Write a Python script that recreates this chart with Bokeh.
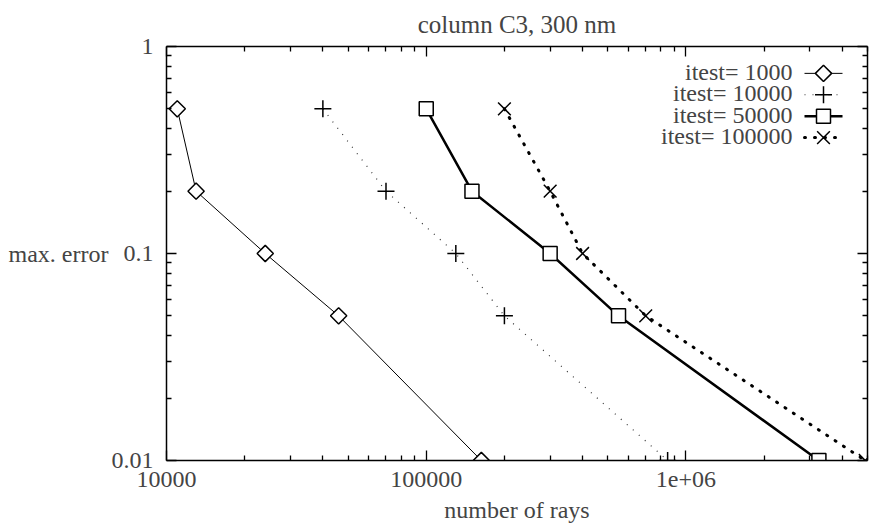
from bokeh.plotting import figure
from bokeh.models import (Range1d, FixedTicker, CustomJSTickFormatter, LogAxis,
                          Label, LinearScale)
from bokeh.embed import file_html
from bokeh.resources import INLINE

# ---- data ----
title_text = "column C3, 300 nm"
series_names = ["itest= 1000", "itest= 10000", "itest= 50000", "itest= 100000"]
rays_1000 = [11000, 13000, 24000, 46000, 163000]
err_1000 = [0.5, 0.2, 0.1, 0.05, 0.01]
rays_10000 = [40000, 70000, 130000, 200000, 850000]
err_10000 = [0.5, 0.2, 0.1, 0.05, 0.01]
rays_50000 = [100000, 150000, 300000, 550000, 3250000]
err_50000 = [0.5, 0.2, 0.1, 0.05, 0.01]
rays_100000 = [200000, 300000, 400000, 700000, 4900000]
err_100000 = [0.5, 0.2, 0.1, 0.05, 0.01]

x_ticks = [1e4, 1e5, 1e6]
x_tick_labels = ["10000", "100000", "1e+06"]
x_minor = [m * d for d in (1e4, 1e5, 1e6) for m in range(2, 10) if m * d <= 5e6]
y_ticks = [0.01, 0.1, 1.0]
y_tick_labels = ["0.01", "0.1", "1"]
y_minor = [m * d for d in (0.01, 0.1) for m in range(2, 10)]

FONT = "Liberation Serif"
FS = "24px"

# frame geometry (pixels)
FRAME_W, FRAME_H = 701, 416

p = figure(width=870, height=527, x_axis_type="log", y_axis_type="log",
           x_range=Range1d(1e4, 5e6), y_range=Range1d(0.01, 1),
           output_backend="svg", toolbar_location=None,
           min_border_left=166, min_border_right=3, min_border_top=0,
           min_border_bottom=67, background_fill_color="white",
           border_fill_color="white", outline_line_color=None)
p.grid.visible = False
# pixel space inside the frame, used for the key (legend) samples
p.extra_x_ranges = {"px": Range1d(0, FRAME_W)}
p.extra_y_ranges = {"px": Range1d(0, FRAME_H)}
p.extra_x_scales = {"px": LinearScale()}
p.extra_y_scales = {"px": LinearScale()}

p.title.text = title_text
p.title.align = "center"
p.title.vertical_align = "bottom"
p.title.text_font = FONT
p.title.text_font_size = "25px"
p.title.text_font_style = "normal"
p.title.standoff = 17

def fmt(vals, labs):
    return CustomJSTickFormatter(args=dict(vals=vals, labs=labs), code="""
        for (let i = 0; i < vals.length; i++) {
            if (Math.abs(tick - vals[i]) < 1e-6 * vals[i]) return labs[i];
        }
        return "";
    """)

def style_axis(ax, show):
    ax.axis_line_width = 1.5
    ax.axis_line_color = "black"
    ax.major_tick_in = 10
    ax.major_tick_out = 0
    ax.minor_tick_in = 5
    ax.minor_tick_out = 0
    ax.major_tick_line_width = 1.3
    ax.minor_tick_line_width = 1.3
    ax.major_label_text_font = FONT
    ax.major_label_text_font_size = FS
    ax.major_label_standoff = 11 if show else 0
    ax.axis_label_text_font = FONT
    ax.axis_label_text_font_size = FS
    ax.axis_label_text_font_style = "normal"

xt = FixedTicker(ticks=x_ticks, minor_ticks=x_minor)
yt = FixedTicker(ticks=y_ticks, minor_ticks=y_minor)

p.xaxis.ticker = xt
p.yaxis.ticker = yt
p.xaxis.formatter = fmt(x_ticks, x_tick_labels)
p.yaxis.formatter = fmt(y_ticks, y_tick_labels)
style_axis(p.xaxis[0], True)
style_axis(p.yaxis[0], True)
p.yaxis.major_label_standoff = 13
p.xaxis.axis_label = "number of rays"
p.xaxis.axis_label_standoff = 7
p.yaxis.axis_label = "max. error"
p.yaxis.axis_label_orientation = "horizontal"
p.yaxis.axis_label_standoff = 0

top = LogAxis(ticker=xt, formatter=fmt([], []))
style_axis(top, False)
p.add_layout(top, "above")
right = LogAxis(ticker=yt, formatter=fmt([], []))
style_axis(right, False)
p.add_layout(right, "right")

# ---- series styles ----
styles = [
    dict(line=dict(line_color="black", line_width=1),
         mark=dict(marker="square", size=11.5, angle=0.785398, fill_color="white",
                   line_color="black", line_width=1.5)),
    dict(line=dict(line_color="#333333", line_width=1.2, line_dash="1 7"),
         mark=dict(marker="cross", size=17, line_color="black", line_width=1.5)),
    dict(line=dict(line_color="black", line_width=2.5),
         mark=dict(marker="square", size=14, fill_color="white",
                   line_color="black", line_width=1.5)),
    dict(line=dict(line_color="black", line_width=3, line_dash="1 9", line_cap="round"),
         mark=dict(marker="x", size=18, line_color="black", line_width=1.5)),
]
xs_all = [rays_1000, rays_10000, rays_50000, rays_100000]
ys_all = [err_1000, err_10000, err_50000, err_100000]

for xs, ys, st in zip(xs_all, ys_all, styles):
    p.line(xs, ys, **st["line"])
for xs, ys, st in zip(xs_all, ys_all, styles):
    p.scatter(xs, ys, **st["mark"])

# ---- key (gnuplot style: text on the left, sample on the right) ----
KEY_TEXT_RIGHT = 626      # frame pixels from left
KEY_SAMPLE_X0, KEY_SAMPLE_X1 = 638, 676
KEY_ROW0, KEY_ROW_STEP = 389, 21.5   # frame pixels from bottom

for i, (name, st) in enumerate(zip(series_names, styles)):
    ky = KEY_ROW0 - KEY_ROW_STEP * i
    p.add_layout(Label(x=KEY_TEXT_RIGHT, y=ky, x_units="screen", y_units="screen",
                       text=name, text_align="right", text_baseline="middle",
                       text_font=FONT, text_font_size=FS))
    p.line([KEY_SAMPLE_X0, KEY_SAMPLE_X1], [ky, ky], x_range_name="px",
           y_range_name="px", **st["line"])
    p.scatter([(KEY_SAMPLE_X0 + KEY_SAMPLE_X1) / 2], [ky], x_range_name="px",
              y_range_name="px", **st["mark"])

open("out.html", "w").write(file_html(p, INLINE))
